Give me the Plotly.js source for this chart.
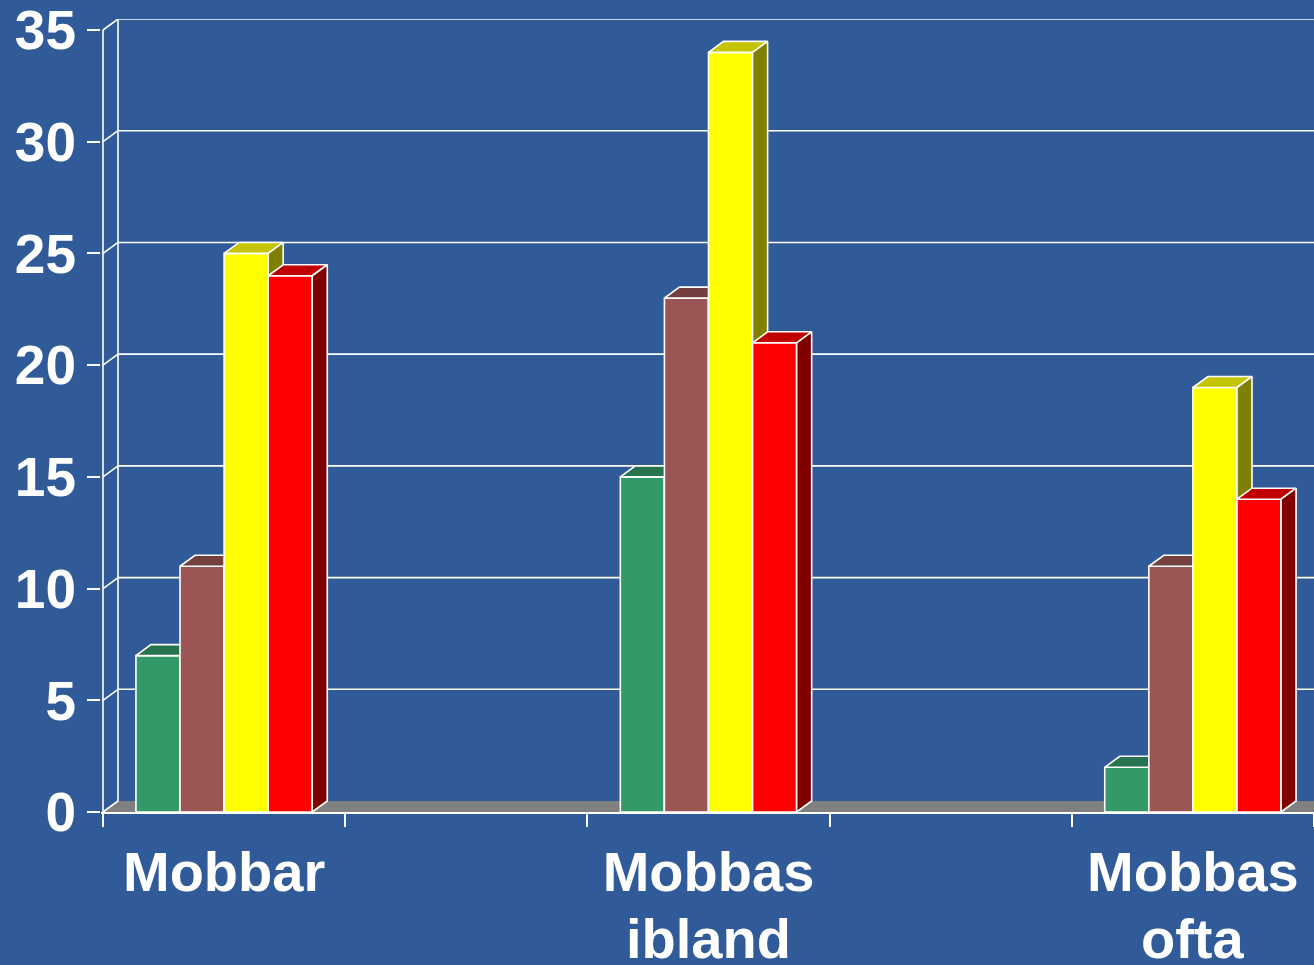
<!DOCTYPE html>
<html>
<head>
<meta charset="utf-8">
<script src="https://cdn.plot.ly/plotly-3.0.1.min.js"></script>
<style>
html,body{margin:0;padding:0;background:#305A98;}
#chart{width:1314px;height:965px;}
</style>
</head>
<body>
<div id="chart"></div>
<script>
// ---- data ----
const categories = ['Mobbar', 'Mobbas<br>ibland', 'Mobbas<br>ofta'];
const catPos = [0, 2, 4];
const seriesNames = ['Serie 1', 'Serie 2', 'Serie 3', 'Serie 4'];
const greenVals = [7, 15, 2];
const brownVals = [11, 23, 11];
const yellowVals = [25, 34, 19];
const redVals = [24, 21, 14];
const yTicks = [0, 5, 10, 15, 20, 25, 30, 35];

// ---- style ----
const BG = '#305A98';
const frontCol = ['#339966', '#9C5555', '#FFFF00', '#FF0000'];
const topCol = ['#26734D', '#733F3F', '#C4C400', '#C00000'];
const sideCol = ['#1A4D33', '#4D2A2A', '#808000', '#800000'];
const BAR_W = 0.182;     // bar width in category units
const DX = 0.062;        // 3D depth, x units
const DY = 0.492;        // 3D depth, y units
const X0 = -0.5, X1 = 4.5;
const Y_TOP = yTicks[yTicks.length - 1];
const FONT = 'Liberation Sans, Arial, sans-serif';
const LW = 1.6;
const CAT_FONT = 56;

const allSeries = [greenVals, brownVals, yellowVals, redVals];
const traces = [];

// floor
traces.push({
  type: 'scatter', mode: 'lines', hoverinfo: 'skip', showlegend: false,
  x: [X0, X0 + DX, X1 + DX, X1, X0], y: [0, DY, DY, 0, 0],
  fill: 'toself', fillcolor: '#808080', line: {width: 0, color: '#808080'}
});

// back wall + left wall lines + front axis line
const wx = [], wy = [];
wx.push(X0 + DX, X0 + DX, null); wy.push(DY, Y_TOP + DY, null);
yTicks.forEach(v => {
  if (v > 0) { wx.push(X0 + DX, X1 + DX, null); wy.push(v + DY, v + DY, null); }
  wx.push(X0, X0 + DX, null); wy.push(v, v + DY, null);
});
wx.push(X0, X0, null); wy.push(0, Y_TOP, null);
traces.push({
  type: 'scatter', mode: 'lines', hoverinfo: 'skip', showlegend: false,
  x: wx, y: wy, line: {color: 'white', width: LW}
});

// bars: front, top, side per series
allSeries.forEach((vals, s) => {
  const fx = [], fy = [], tx = [], ty = [], sx = [], sy = [];
  vals.forEach((v, g) => {
    const xl = catPos[g] + (s - 2) * BAR_W;
    const xr = xl + BAR_W;
    fx.push(xl, xl, xr, xr, xl, null); fy.push(0, v, v, 0, 0, null);
    tx.push(xl, xl + DX, xr + DX, xr, xl, null); ty.push(v, v + DY, v + DY, v, v, null);
    sx.push(xr, xr, xr + DX, xr + DX, xr, null); sy.push(0, v, v + DY, DY, 0, null);
  });
  traces.push({
    type: 'scatter', mode: 'lines', name: seriesNames[s], showlegend: false,
    x: fx, y: fy, fill: 'toself', fillcolor: frontCol[s],
    line: {color: 'white', width: LW}, hoveron: 'fills', text: seriesNames[s]
  });
  traces.push({
    type: 'scatter', mode: 'lines', hoverinfo: 'skip', showlegend: false,
    x: tx, y: ty, fill: 'toself', fillcolor: topCol[s],
    line: {color: 'white', width: LW}
  });
  traces.push({
    type: 'scatter', mode: 'lines', hoverinfo: 'skip', showlegend: false,
    x: sx, y: sy, fill: 'toself', fillcolor: sideCol[s],
    line: {color: 'white', width: LW}
  });
});

// category labels: first line as tick labels, second line as annotations
// (the reference uses a tighter line spacing than Plotly's 1.3em)
const catLines = categories.map(c => c.split('<br>'));
const annotations = [];
catLines.forEach((lines, i) => {
  if (lines.length > 1) {
    annotations.push({
      x: catPos[i], xref: 'x', y: 0, yref: 'paper',
      xanchor: 'center', yanchor: 'middle', yshift: -126,
      text: lines.slice(1).join(' '), showarrow: false,
      font: {family: FONT, size: CAT_FONT, color: 'white', weight: 'bold'}
    });
  }
});

const pxPerUnitX = 242.2;
const layout = {
  width: 1314, height: 965,
  paper_bgcolor: BG, plot_bgcolor: BG,
  margin: {l: 101, r: 0, t: 19, b: 153, pad: 0},
  showlegend: false,
  annotations: annotations,
  xaxis: {
    type: 'linear',
    range: [X0 - 2 / pxPerUnitX, X1],
    tickmode: 'array', tickvals: catPos, ticktext: catLines.map(l => l[0]),
    ticks: '', showgrid: false, zeroline: false,
    showline: true, linecolor: 'white', linewidth: 2,
    tickfont: {family: FONT, size: CAT_FONT, color: 'white', weight: 'bold'},
    ticklabelstandoff: 10,
    minor: {tickmode: 'linear', tick0: X0, dtick: 1, ticks: 'outside', ticklen: 13,
            tickwidth: 2, tickcolor: 'white', showgrid: false},
    fixedrange: true
  },
  yaxis: {
    range: [0, Y_TOP + DY],
    tickmode: 'array', tickvals: yTicks,
    ticks: 'outside', ticklen: 13, tickwidth: 2, tickcolor: 'white',
    showgrid: false, zeroline: false, showline: false,
    tickfont: {family: FONT, size: 55, color: 'white', weight: 'bold'},
    ticklabelstandoff: 0,
    ticklabeloverflow: 'allow',
    fixedrange: true
  }
};

Plotly.newPlot('chart', traces, layout, {displayModeBar: false, staticPlot: false});
</script>
</body>
</html>
